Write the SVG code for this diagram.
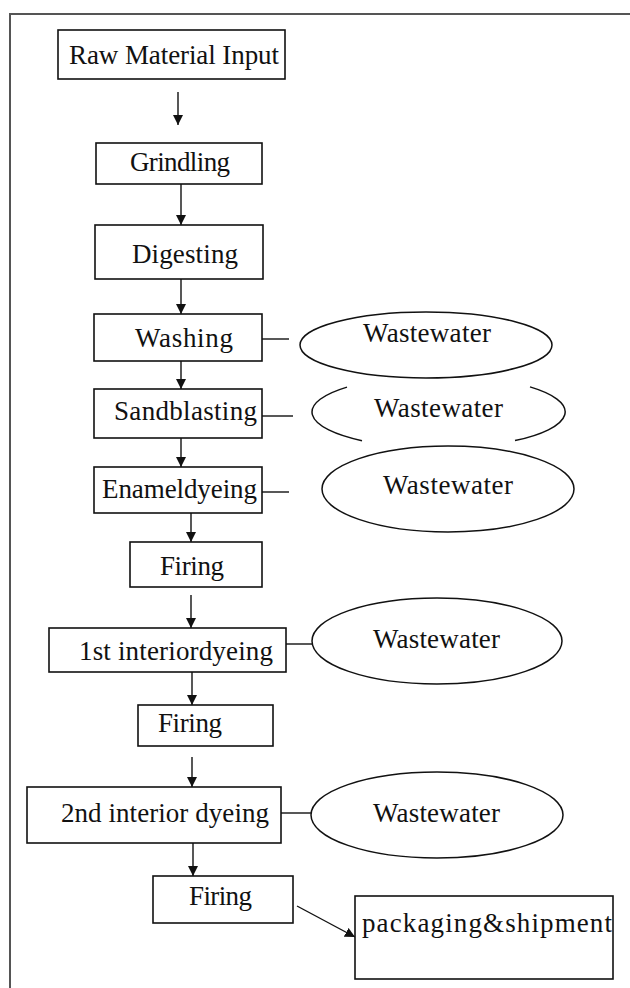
<svg xmlns="http://www.w3.org/2000/svg" width="630" height="988" viewBox="0 0 630 988">
<style>
.box{fill:#fff;stroke:#111;stroke-width:1.6}
.ell{fill:#fff;stroke:#111;stroke-width:1.5}
.t{font-family:"Liberation Serif","Times New Roman",serif;font-size:27px;fill:#111}
.ln{stroke:#111;stroke-width:1.4;fill:none}
.ar{stroke:#111;stroke-width:1.4;fill:none;marker-end:url(#ah)}
</style>
<defs>
<marker id="ah" viewBox="0 0 10 10" refX="10" refY="5" markerUnits="userSpaceOnUse" markerWidth="10" markerHeight="10" orient="auto">
<path d="M0,0 L10,5 L0,10 z" fill="#111"/>
</marker>
</defs>
<rect width="630" height="988" fill="#fff"/>
<path d="M10,988 L10,14 L630,14" fill="none" stroke="#555" stroke-width="2"/>

<g id="connectors">
<line class="ar" x1="178" y1="92" x2="178" y2="125"/>
<line class="ar" x1="181" y1="184" x2="181" y2="225"/>
<line class="ar" x1="181" y1="279" x2="181" y2="314"/>
<line class="ar" x1="181" y1="361" x2="181" y2="389"/>
<line class="ar" x1="181" y1="438" x2="181" y2="467"/>
<line class="ar" x1="191" y1="513" x2="191" y2="542"/>
<line class="ar" x1="191" y1="595" x2="191" y2="628"/>
<line class="ar" x1="192" y1="672" x2="192" y2="705"/>
<line class="ar" x1="192" y1="757" x2="192" y2="787"/>
<line class="ar" x1="193" y1="843" x2="193" y2="876"/>
<line class="ar" x1="297" y1="906" x2="355" y2="937"/>
<line class="ln" x1="262" y1="339" x2="289" y2="339"/>
<line class="ln" x1="262" y1="416" x2="293" y2="416"/>
<line class="ln" x1="262" y1="492" x2="289" y2="492"/>
<line class="ln" x1="286" y1="644" x2="312" y2="644"/>
<line class="ln" x1="281" y1="813" x2="312" y2="813"/>
</g>

<g id="raw"><rect class="box" x="58" y="30" width="227" height="49"/><text class="t" x="69" y="64" textLength="210">Raw Material Input</text></g>
<g id="grindling"><rect class="box" x="96" y="143" width="166" height="41"/><text class="t" x="130" y="171" textLength="100">Grindling</text></g>
<g id="digesting"><rect class="box" x="95" y="225" width="168" height="54"/><text class="t" x="132" y="263" textLength="106">Digesting</text></g>
<g id="washing"><rect class="box" x="94" y="314" width="168" height="47"/><text class="t" x="135" y="347" textLength="98">Washing</text></g>
<g id="sandblasting"><rect class="box" x="94" y="389" width="168" height="49"/><text class="t" x="114" y="420" textLength="143">Sandblasting</text></g>
<g id="enamel"><rect class="box" x="94" y="467" width="168" height="46"/><text class="t" x="102" y="498" textLength="155">Enameldyeing</text></g>
<g id="firing1"><rect class="box" x="130" y="542" width="132" height="45"/><text class="t" x="160" y="575" textLength="64">Firing</text></g>
<g id="interior1"><rect class="box" x="49" y="628" width="237" height="44"/><text class="t" x="79" y="660" textLength="194">1st interiordyeing</text></g>
<g id="firing2"><rect class="box" x="138" y="705" width="135" height="41"/><text class="t" x="158" y="732" textLength="64">Firing</text></g>
<g id="interior2"><rect class="box" x="27" y="787" width="254" height="56"/><text class="t" x="61" y="822" textLength="208">2nd interior dyeing</text></g>
<g id="firing3"><rect class="box" x="153" y="876" width="140" height="47"/><text class="t" x="189" y="905" textLength="63">Firing</text></g>
<g id="packaging"><rect class="box" x="355" y="896" width="258" height="83"/><text class="t" x="362" y="932" textLength="250">packaging&amp;shipment</text></g>

<g id="ww1"><ellipse class="ell" cx="426" cy="345" rx="126" ry="33"/><text class="t" x="363" y="342" textLength="128">Wastewater</text></g>
<g id="ww2"><path class="ell" d="M347,387.1 A126,36 0 0 0 362,440.7 M515,440.6 A126,36 0 0 0 530,386.9" fill="none"/><text class="t" x="374" y="417" textLength="129">Wastewater</text></g>
<g id="ww3"><ellipse class="ell" cx="448" cy="489" rx="126" ry="43"/><text class="t" x="383" y="494" textLength="130">Wastewater</text></g>
<g id="ww4"><ellipse class="ell" cx="437" cy="641" rx="125" ry="43"/><text class="t" x="373" y="648" textLength="127">Wastewater</text></g>
<g id="ww5"><ellipse class="ell" cx="437" cy="815" rx="126" ry="43"/><text class="t" x="373" y="822" textLength="127">Wastewater</text></g>
</svg>
